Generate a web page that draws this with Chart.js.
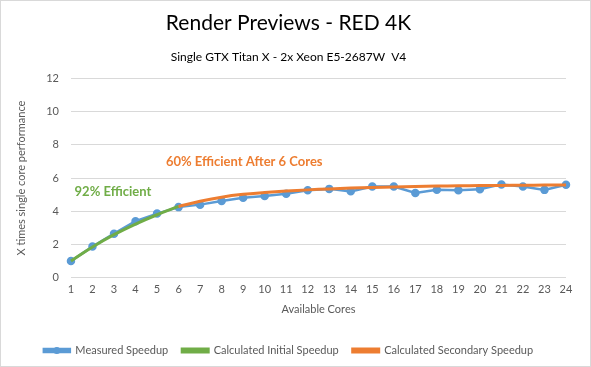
<!DOCTYPE html>
<html>
<head>
<meta charset="utf-8">
<script src="https://cdn.jsdelivr.net/npm/chart.js@4"></script>
<style>
  body { margin: 0; background: #fff; }
  #wrap { width: 589px; height: 365px; border: 1px solid #d9d9d9; position: relative; }
</style>
</head>
<body>
<div id="wrap"><canvas id="speedChart"></canvas></div>
<script>
const cores = ['1','2','3','4','5','6','7','8','9','10','11','12','13','14','15','16','17','18','19','20','21','22','23','24'];
const measuredSpeedup = [1.0, 1.87, 2.65, 3.4, 3.86, 4.25, 4.4, 4.62, 4.82, 4.92, 5.05, 5.27, 5.35, 5.2, 5.49, 5.49, 5.1, 5.3, 5.27, 5.33, 5.62, 5.5, 5.29, 5.6];
const initialSpeedup = [1.0, 1.85, 2.59, 3.23, 3.79, 4.29, null, null, null, null, null, null, null, null, null, null, null, null, null, null, null, null, null, null];
const secondarySpeedup = [null, null, null, null, null, 4.29, 4.6, 4.85, 5.02, 5.13, 5.22, 5.29, 5.35, 5.4, 5.44, 5.47, 5.5, 5.52, 5.54, 5.55, 5.56, 5.57, 5.58, 5.59];
const yTicks = [0, 2, 4, 6, 8, 10, 12];

// text notes, placed in data units
const notes = [
    { text: '92% Efficient', x: 2.95, y: 5.2, color: '#70AD47' },
    { text: '60% Efficient After 6 Cores', x: 9.05, y: 7.0, color: '#ED7D31' }
];

const FONT = 'Lato, "Open Sans", sans-serif';
const grey = '#595959';

const notesPlugin = {
    id: 'notes',
    afterDatasetsDraw(chart) {
        const c = chart.ctx;
        const xs = chart.scales.x, ys = chart.scales.y;
        c.save();
        c.font = 'bold 13px ' + FONT;
        c.textAlign = 'center';
        c.textBaseline = 'middle';
        notes.forEach(n => {
            c.fillStyle = n.color;
            c.fillText(n.text, xs.getPixelForValue(n.x - 1), ys.getPixelForValue(n.y));
        });
        c.restore();
    },
    afterDraw(chart) {
        // dot on the measured legend sample
        const lg = chart.legend;
        if (!lg || !lg.legendHitBoxes) return;
        const box = lg.legendHitBoxes[0];
        const c = chart.ctx;
        c.save();
        c.fillStyle = '#5B9BD5';
        c.beginPath();
        c.arc(box.left + lg.options.labels.boxWidth / 2, box.top + box.height / 2, 3.5, 0, Math.PI * 2);
        c.fill();
        c.restore();
    }
};

new Chart(document.getElementById('speedChart'), {
    type: 'line',
    data: {
        labels: cores,
        datasets: [
            {
                label: 'Measured Speedup',
                data: measuredSpeedup,
                borderColor: '#5B9BD5',
                backgroundColor: '#5B9BD5',
                borderWidth: 2.5,
                pointRadius: 3,
                pointHoverRadius: 3,
                tension: 0,
                order: 3
            },
            {
                label: 'Calculated Initial Speedup',
                data: initialSpeedup,
                borderColor: '#70AD47',
                backgroundColor: '#70AD47',
                borderWidth: 3,
                pointRadius: 0,
                tension: 0.4,
                order: 2
            },
            {
                label: 'Calculated Secondary Speedup',
                data: secondarySpeedup,
                borderColor: '#ED7D31',
                backgroundColor: '#ED7D31',
                borderWidth: 3,
                pointRadius: 0,
                tension: 0.4,
                order: 1
            }
        ]
    },
    options: {
        responsive: true,
        maintainAspectRatio: false,
        animation: false,
        layout: { padding: { left: 10, right: 24, top: 6, bottom: 0 } },
        plugins: {
            title: {
                display: true,
                text: 'Render Previews - RED 4K',
                color: '#000',
                font: { family: FONT, size: 21, weight: 'normal' },
                padding: { top: 4, bottom: 14 }
            },
            subtitle: {
                display: true,
                text: 'Single GTX Titan X - 2x Xeon E5-2687W  V4',
                color: '#000',
                font: { family: FONT, size: 12 },
                padding: { bottom: 14 }
            },
            legend: {
                position: 'bottom',
                labels: {
                    color: grey,
                    font: { family: FONT, size: 11 },
                    boxWidth: 26,
                    boxHeight: 3,
                    padding: 14,
                    sort: (a, b) => a.datasetIndex - b.datasetIndex
                }
            },
            tooltip: { enabled: false }
        },
        scales: {
            x: {
                grid: { display: false, drawTicks: false },
                border: { display: false },
                ticks: { color: grey, font: { family: FONT, size: 11 }, maxRotation: 0, autoSkip: false, padding: 5 },
                title: { display: true, text: 'Available Cores', color: grey, font: { family: FONT, size: 11 }, padding: { top: 2, bottom: 15 } }
            },
            y: {
                min: 0,
                max: 12,
                afterBuildTicks: axis => { axis.ticks = yTicks.map(v => ({ value: v })); },
                grid: { color: '#d9d9d9', drawTicks: false },
                border: { display: false },
                ticks: { color: grey, font: { family: FONT, size: 11 }, padding: 12 },
                title: { display: true, text: 'X times single core performance', color: grey, font: { family: FONT, size: 11 }, padding: { bottom: 6 } }
            }
        }
    },
    plugins: [notesPlugin]
});
</script>
</body>
</html>
